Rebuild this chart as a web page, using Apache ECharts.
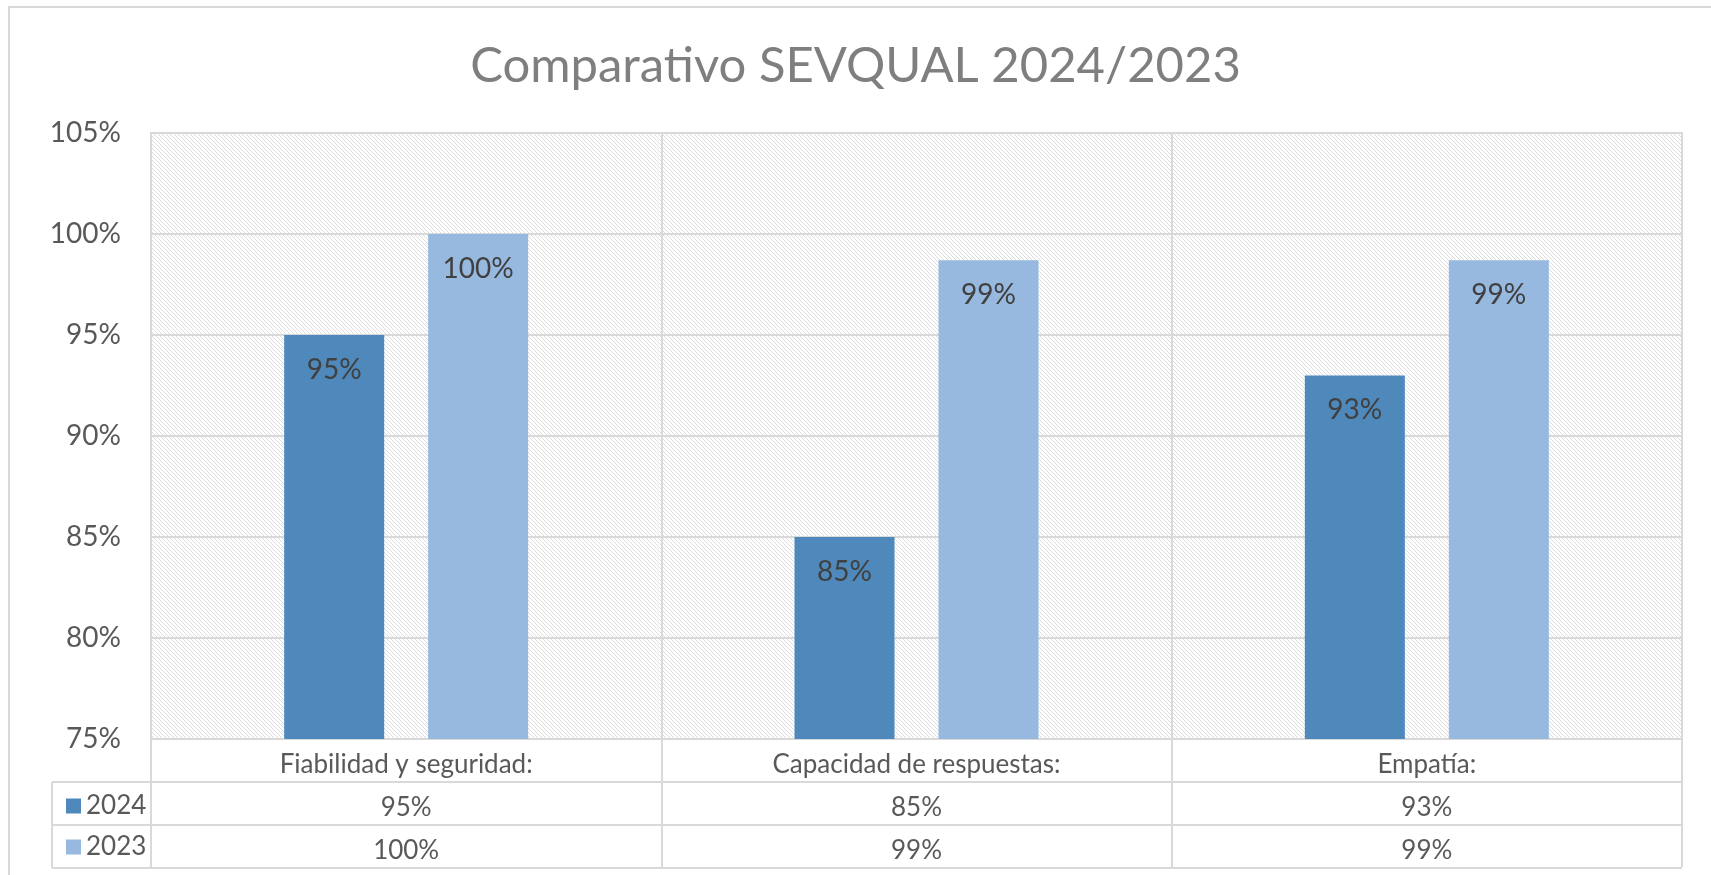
<!DOCTYPE html>
<html>
<head>
    <meta charset="utf-8">
    <title>Comparativo SEVQUAL</title>
    <script src="https://cdn.jsdelivr.net/npm/echarts@6/dist/echarts.min.js"></script>
    <style>
        html, body { margin: 0; padding: 0; background: #fff; }
    </style>
</head>
<body>
<div id="main" style="width: 1711px;height:875px;"></div>
<script type="text/javascript">
    // datos
    var categorias = ['Fiabilidad y seguridad:', 'Capacidad de respuestas:', 'Empatía:'];
    var serie2024 = [95, 85, 93];
    var serie2023 = [100, 98.7, 98.7];
    var nombresSeries = ['2024', '2023'];

    var FONT = 'Lato';
    var gridL = 151, gridR = 29, gridT = 133, gridB = 136;
    var rowH = 43;

    // fondo rayado del area de trazado
    var pat = document.createElement('canvas');
    pat.width = 4; pat.height = 4;
    var pctx = pat.getContext('2d');
    pctx.fillStyle = '#ffffff';
    pctx.fillRect(0, 0, 4, 4);
    pctx.fillStyle = '#dcdcdc';
    for (var i = 0; i < 4; i++) {
        pctx.fillRect(i, i, 1, 1);
    }

    var myChart = echarts.init(document.getElementById('main'));

    function pct(v) { return Math.round(v) + '%'; }

    var axisLabels = categorias.map(function (c, i) {
        return '{cat|' + c + '}\n{val|' + pct(serie2024[i]) + '}\n{val|' + pct(serie2023[i]) + '}';
    });

    var W = 1711, H = 875;
    var plotBottom = H - gridB;

    var option = {
        backgroundColor: '#ffffff',
        animation: false,
        title: {
            text: 'Comparativo SEVQUAL 2024/2023',
            left: 'center',
            top: 37,
            textStyle: { fontFamily: FONT, fontSize: 49, fontWeight: 'normal', color: '#7f7f7f' }
        },
        legend: {
            data: nombresSeries,
            orient: 'vertical',
            left: 61,
            top: plotBottom + rowH + 6,
            itemGap: 15,
            itemWidth: 15,
            itemHeight: 15,
            icon: 'rect',
            selectedMode: false,
            textStyle: { fontFamily: FONT, fontSize: 26, color: '#595959', padding: [0, 0, 0, 0] }
        },
        grid: {
            left: gridL, right: gridR, top: gridT, bottom: gridB,
            show: true,
            backgroundColor: { image: pat, repeat: 'repeat' },
            borderColor: '#d9d9d9',
            borderWidth: 2
        },
        xAxis: {
            type: 'category',
            data: axisLabels,
            axisLine: { lineStyle: { color: '#d9d9d9', width: 2 } },
            axisTick: { show: true, length: rowH * 3 - 1, lineStyle: { color: '#d9d9d9', width: 2 } },
            splitLine: { show: true, lineStyle: { color: '#d9d9d9', width: 2 } },
            axisLabel: {
                margin: 4,
                rich: {
                    cat: { fontFamily: FONT, fontSize: 26, color: '#595959', height: rowH, lineHeight: rowH },
                    val: { fontFamily: FONT, fontSize: 26, color: '#595959', height: rowH, lineHeight: rowH }
                }
            }
        },
        yAxis: {
            type: 'value',
            min: 75,
            max: 105,
            interval: 5,
            axisLine: { show: false },
            axisTick: { show: false },
            splitLine: { lineStyle: { color: '#d9d9d9', width: 2 } },
            axisLabel: {
                margin: 30,
                formatter: '{value}%',
                fontFamily: FONT,
                fontSize: 28,
                color: '#595959'
            }
        },
        series: [
            {
                name: '2024',
                type: 'bar',
                data: serie2024,
                barWidth: 100,
                barGap: '44%',
                itemStyle: { color: '#4f89bc' },
                label: {
                    show: true,
                    position: 'insideTop',
                    distance: 21,
                    formatter: function (p) { return pct(p.value); },
                    fontFamily: FONT, fontSize: 28, color: '#404040'
                }
            },
            {
                name: '2023',
                type: 'bar',
                data: serie2023,
                barWidth: 100,
                itemStyle: { color: '#97b9df' },
                label: {
                    show: true,
                    position: 'insideTop',
                    distance: 21,
                    formatter: function (p) { return pct(p.value); },
                    fontFamily: FONT, fontSize: 28, color: '#404040'
                }
            }
        ],
        graphic: [
            // borde del area del grafico
            { type: 'rect', shape: { x: 9, y: 7, width: W + 20, height: H + 20 }, style: { fill: 'none', stroke: '#d9d9d9', lineWidth: 2 }, silent: true },
            // lineas de la tabla de datos
            { type: 'line', shape: { x1: 52, y1: plotBottom + rowH, x2: W - gridR, y2: plotBottom + rowH }, style: { stroke: '#d9d9d9', lineWidth: 2 }, silent: true },
            { type: 'line', shape: { x1: 52, y1: plotBottom + rowH * 2, x2: W - gridR, y2: plotBottom + rowH * 2 }, style: { stroke: '#d9d9d9', lineWidth: 2 }, silent: true },
            { type: 'line', shape: { x1: 52, y1: plotBottom + rowH * 3, x2: W - gridR, y2: plotBottom + rowH * 3 }, style: { stroke: '#d9d9d9', lineWidth: 2 }, silent: true },
            { type: 'line', shape: { x1: 52, y1: plotBottom + rowH, x2: 52, y2: plotBottom + rowH * 3 }, style: { stroke: '#d9d9d9', lineWidth: 2 }, silent: true }
        ]
    };

    myChart.setOption(option);
</script>
</body>
</html>
